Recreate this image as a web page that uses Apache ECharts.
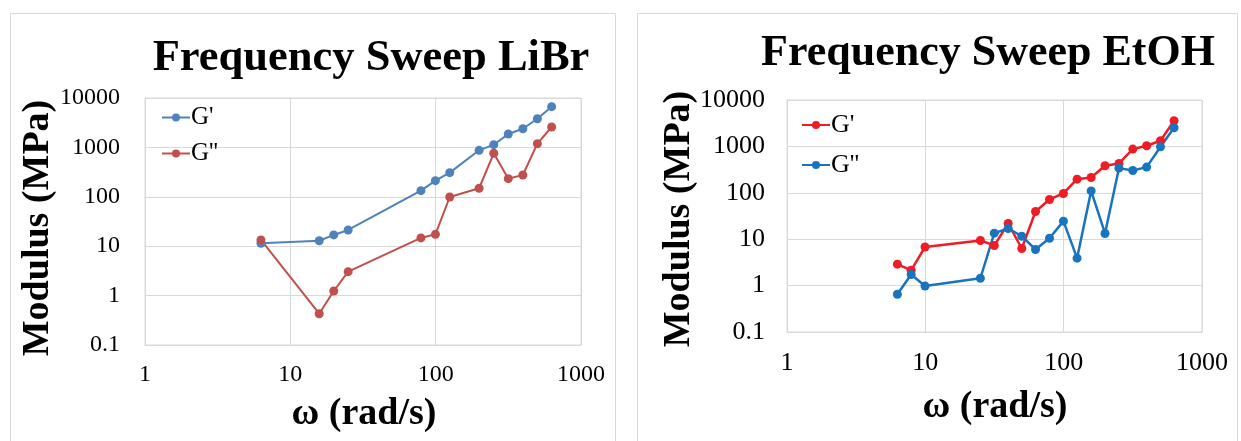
<!DOCTYPE html>
<html>
<head>
<meta charset="utf-8">
<script src="https://cdn.jsdelivr.net/npm/echarts@6/dist/echarts.min.js"></script>
<style>
html,body{margin:0;padding:0;background:#fff;width:1241px;height:441px;overflow:hidden;}
#c1{position:absolute;left:0;top:0;width:620px;height:441px;}
#c2{position:absolute;left:620px;top:0;width:621px;height:441px;}
</style>
</head>
<body>
<div id="c1"></div>
<div id="c2"></div>
<script>
// ---- data ----
var libTitle = 'Frequency Sweep LiBr';
var etTitle = 'Frequency Sweep EtOH';
var xAxisTitle = 'ω (rad/s)';
var yAxisTitle = 'Modulus (MPa)';
var seriesNames = ["G'", "G''"];
var xTickLabels = ['1', '10', '100', '1000'];
var yTickLabels = ['0.1', '1', '10', '100', '1000', '10000'];

var libX   = [6.28, 15.8, 19.9, 25.0, 79.2, 99.6, 125, 199, 251, 316, 398, 501, 628];
var libGp  = [11.5, 12.9, 16.9, 21.3, 133, 212, 308, 873, 1135, 1870, 2390, 3810, 6670];
var libGpp = [13.4, 0.43, 1.24, 3.05, 14.7, 17.4, 99, 149, 760, 233, 276, 1190, 2590];

var etX   = [6.28, 7.9, 9.95, 25.0, 31.5, 39.7, 49.8, 62.6, 79.0, 99.6, 125, 158, 199, 251, 316, 398, 501, 628];
var etGp  = [2.9, 2.14, 6.8, 9.4, 7.3, 21.8, 6.3, 39.5, 71.8, 96.8, 197, 214, 383, 430, 875, 1033, 1325, 3580];
var etGpp = [0.65, 1.73, 0.98, 1.44, 13.5, 17, 11.6, 6.0, 10.5, 24.5, 3.9, 110, 13.3, 340, 303, 358, 984, 2530];

function pairs(xs, ys) { return xs.map(function (x, i) { return [x, ys[i]]; }); }

var SERIF = 'Liberation Serif, Times New Roman, serif';
var GRIDC = '#d9d9d9';

function build(cfg) {
  return {
    animation: false,
    backgroundColor: '#fff',
    title: {
      text: cfg.title, left: cfg.titleX, top: cfg.titleTop, textAlign: 'center',
      textStyle: { fontFamily: SERIF, fontWeight: 'bold', fontSize: cfg.titleSize, color: '#000' }
    },
    grid: {
      left: cfg.grid.left, top: cfg.grid.top, width: cfg.grid.width, height: cfg.grid.height,
      show: true, borderColor: GRIDC, borderWidth: 1, containLabel: false
    },
    legend: {
      orient: 'vertical', left: cfg.legendLeft, top: cfg.legendTop,
      itemWidth: 28, itemHeight: 10, itemGap: cfg.legendGap,
      textStyle: { fontFamily: SERIF, fontSize: cfg.legendSize, color: '#000', lineHeight: 24, padding: [0, 0, 0, -4] },
      data: seriesNames
    },
    xAxis: {
      type: 'log', logBase: 10, min: 1, max: 1000, interval: 1,
      axisLine: { show: true, lineStyle: { color: GRIDC } },
      axisTick: { show: false },
      splitLine: { show: true, lineStyle: { color: GRIDC, width: 1 } },
      axisLabel: {
        fontFamily: SERIF, fontSize: cfg.tickSize, color: '#000', margin: 18,
        formatter: function (v, i) { return xTickLabels[i]; }
      }
    },
    yAxis: {
      type: 'log', logBase: 10, min: 0.1, max: 10000, interval: 1,
      axisLine: { show: true, lineStyle: { color: GRIDC } },
      axisTick: { show: false },
      splitLine: { show: true, lineStyle: { color: GRIDC, width: 1 } },
      axisLabel: {
        fontFamily: SERIF, fontSize: cfg.tickSize, color: '#000', margin: cfg.yMargin,
        formatter: function (v, i) { return yTickLabels[i]; }
      }
    },
    graphic: [
      { type: 'rect', silent: true, z: -10,
        shape: { x: cfg.panel[0], y: cfg.panel[1], width: cfg.panel[2], height: cfg.panel[3] },
        style: { fill: 'none', stroke: GRIDC, lineWidth: 1 } },
      { type: 'text', x: cfg.yTitle[0], y: cfg.yTitle[1], rotation: Math.PI / 2,
        style: { text: yAxisTitle, font: 'bold ' + cfg.axTitleSize + 'px ' + SERIF, fill: '#000',
                 textAlign: 'center', textVerticalAlign: 'middle' } },
      { type: 'text', x: cfg.xTitle[0], y: cfg.xTitle[1],
        style: { text: xAxisTitle, font: 'bold ' + cfg.axTitleSize + 'px ' + SERIF, fill: '#000',
                 textAlign: 'center', textVerticalAlign: 'middle' } }
    ],
    series: [
      { name: seriesNames[0], type: 'line', data: pairs(cfg.x, cfg.gp), symbol: 'circle', symbolSize: cfg.sym,
        itemStyle: { color: cfg.colors[0] }, lineStyle: { color: cfg.colors[0], width: cfg.lw } },
      { name: seriesNames[1], type: 'line', data: pairs(cfg.x, cfg.gpp), symbol: 'circle', symbolSize: cfg.sym,
        itemStyle: { color: cfg.colors[1] }, lineStyle: { color: cfg.colors[1], width: cfg.lw } }
    ]
  };
}

var chart1 = echarts.init(document.getElementById('c1'));
chart1.setOption(build({
  title: libTitle, titleX: 366, titleTop: 31, titleSize: 44.5,
  grid: { left: 145, top: 98, width: 436, height: 247 },
  legendLeft: 156, legendTop: 100, legendGap: 11, legendSize: 25,
  tickSize: 24, yMargin: 25, axTitleSize: 38,
  panel: [10.5, 13.5, 605, 440],
  yTitle: [38, 228], xTitle: [364, 414],
  x: libX, gp: libGp, gpp: libGpp, colors: ['#4f81bd', '#c0504d'], sym: 9, lw: 2
}));

var chart2 = echarts.init(document.getElementById('c2'));
chart2.setOption(build({
  title: etTitle, titleX: 363, titleTop: 27, titleSize: 44,
  grid: { left: 167, top: 100, width: 415, height: 232 },
  legendLeft: 176, legendTop: 107, legendGap: 14, legendSize: 26,
  tickSize: 26, yMargin: 22, axTitleSize: 38,
  panel: [17.5, 13.5, 600, 440],
  yTitle: [59, 219], xTitle: [375, 407],
  x: etX, gp: etGp, gpp: etGpp, colors: ['#ee1c25', '#1874be'], sym: 9, lw: 2.5
}));
</script>
</body>
</html>
